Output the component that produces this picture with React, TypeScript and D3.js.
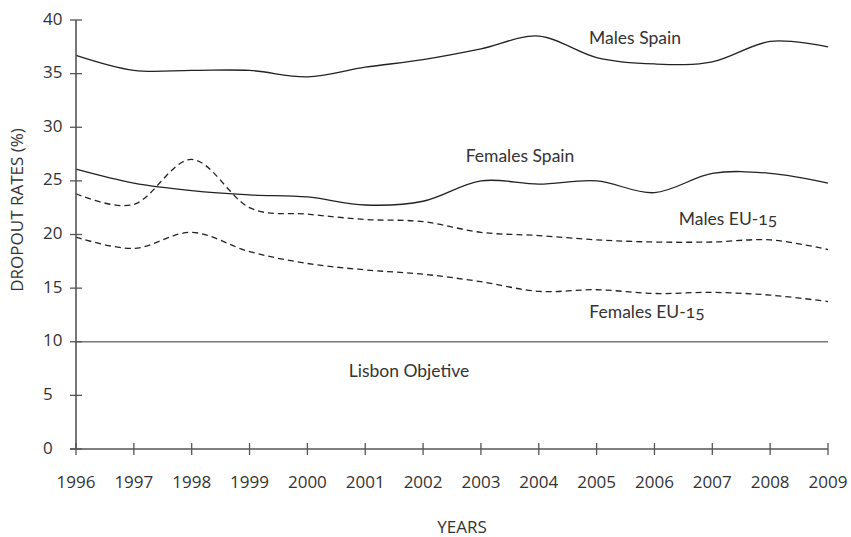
import { scaleLinear, line, curveCardinal } from "d3";

const years = [1996, 1997, 1998, 1999, 2000, 2001, 2002, 2003, 2004, 2005, 2006, 2007, 2008, 2009];
const yTicks = [0, 5, 10, 15, 20, 25, 30, 35, 40];

const malesSpain = [36.7, 35.3, 35.3, 35.3, 34.7, 35.6, 36.3, 37.3, 38.5, 36.5, 35.9, 36.1, 38.0, 37.5];
const femalesSpain = [26.1, 24.8, 24.1, 23.7, 23.5, 22.75, 23.1, 25.0, 24.7, 25.0, 23.9, 25.7, 25.7, 24.8];
const malesEU15 = [23.8, 22.8, 27.0, 22.5, 21.9, 21.4, 21.2, 20.2, 19.9, 19.5, 19.3, 19.3, 19.5, 18.6];
const femalesEU15 = [19.75, 18.7, 20.2, 18.4, 17.3, 16.7, 16.3, 15.6, 14.7, 14.85, 14.5, 14.6, 14.35, 13.75];
const lisbonObjective = 10;

const series = [
  { name: "Males Spain", values: malesSpain, dashed: false, lx: 635, ly: 40 },
  { name: "Females Spain", values: femalesSpain, dashed: false, lx: 520, ly: 158 },
  { name: "Males EU-15", values: malesEU15, dashed: true, lx: 728, ly: 221 },
  { name: "Females EU-15", values: femalesEU15, dashed: true, lx: 647, ly: 314 },
];

export default function App() {
  const width = 851;
  const height = 537;

  const x = scaleLinear().domain([1996, 2009]).range([76, 828]);
  const y = scaleLinear().domain([0, 40]).range([449, 20]);

  // smoothed like a spreadsheet line
  const path = line<number>()
    .x((_, i) => x(years[i]))
    .y(d => y(d))
    .curve(curveCardinal.tension(0));

  const axisColor = "#555";
  const textColor = "#333";
  const tickFont = "'Open Sans', sans-serif";
  const labelFont = "Lato, 'Open Sans', sans-serif";

  return (
    <svg
      width={width}
      height={height}
      style={{ position: "absolute", left: 0, top: 0, background: "#fff" }}
    >
      {/* lisbon objective */}
      <line x1={x(1996)} x2={x(2009)} y1={y(lisbonObjective)} y2={y(lisbonObjective)} stroke="#777" strokeWidth={1.4} />
      <text
        x={409}
        y={373}
        textAnchor="middle"
        dominantBaseline="middle"
        style={{ fontFamily: labelFont, fontSize: "17.5px", fill: textColor }}
      >
        Lisbon Objetive
      </text>

      {series.map(s => (
        <g key={s.name}>
          <path
            d={path(s.values) || ""}
            fill="none"
            stroke="#222"
            strokeWidth={1.3}
            strokeDasharray={s.dashed ? "6,4" : undefined}
          />
          <text
            x={s.lx}
            y={s.ly}
            textAnchor="middle"
            dominantBaseline="middle"
            style={{ fontFamily: labelFont, fontSize: "17.5px", fill: textColor, fontVariantNumeric: "oldstyle-nums" }}
          >
            {s.name}
          </text>
        </g>
      ))}

      {/* y axis */}
      <line x1={x(1996)} x2={x(1996)} y1={y(0)} y2={y(40)} stroke={axisColor} strokeWidth={1.6} />
      {yTicks.map(t => (
        <g key={t}>
          <line x1={70} x2={82} y1={y(t)} y2={y(t)} stroke={axisColor} strokeWidth={1.3} />
          <text
            x={43}
            y={y(t)}
            dominantBaseline="middle"
            style={{ fontFamily: tickFont, fontSize: "17px", fill: textColor }}
          >
            {t}
          </text>
        </g>
      ))}

      {/* x axis */}
      <line x1={x(1996) - 6} x2={x(2009)} y1={y(0)} y2={y(0)} stroke={axisColor} strokeWidth={1.6} />
      {years.map(yr => (
        <g key={yr}>
          <line x1={x(yr)} x2={x(yr)} y1={y(0) - 6} y2={y(0) + 6} stroke={axisColor} strokeWidth={1.3} />
          <text
            x={x(yr)}
            y={483}
            textAnchor="middle"
            dominantBaseline="middle"
            style={{ fontFamily: tickFont, fontSize: "17px", fill: textColor }}
          >
            {yr}
          </text>
        </g>
      ))}

      <text
        x={462}
        y={528}
        textAnchor="middle"
        dominantBaseline="middle"
        style={{ fontFamily: tickFont, fontSize: "17px", fill: textColor }}
      >
        YEARS
      </text>
      <text
        transform={`translate(18, 210) rotate(-90)`}
        textAnchor="middle"
        dominantBaseline="middle"
        style={{ fontFamily: tickFont, fontSize: "17px", fill: textColor }}
      >
        DROPOUT RATES (%)
      </text>
    </svg>
  );
}
